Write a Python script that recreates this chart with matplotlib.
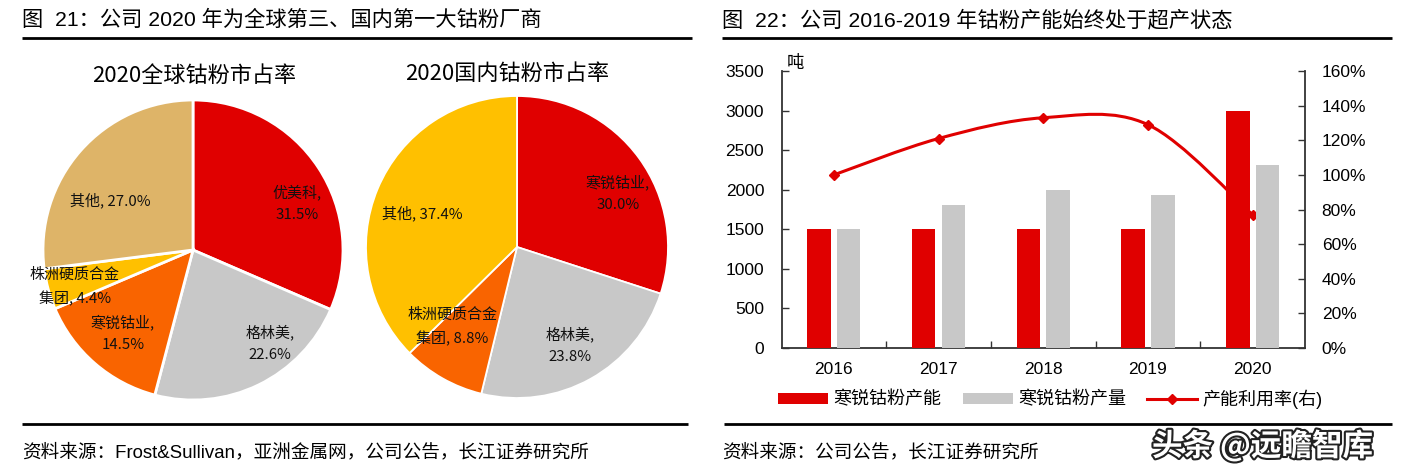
import matplotlib
matplotlib.use('Agg')
import matplotlib.pyplot as plt
import numpy as np
from matplotlib.path import Path
from matplotlib.patches import PathPatch, Patch
from matplotlib.lines import Line2D
import matplotlib.patheffects as pe

plt.rcParams['font.family'] = ['Liberation Sans', 'Noto Sans CJK SC']
plt.rcParams['axes.unicode_minus'] = False

# ---------------- data ----------------
global_names = ['优美科', '格林美', '寒锐钴业', '株洲硬质合金\n集团', '其他']
global_share = [31.5, 22.6, 14.5, 4.4, 27.0]
global_sep = [',\n', ',\n', ',\n', ', ', ', ']

domestic_names = ['寒锐钴业', '格林美', '株洲硬质合金\n集团', '其他']
domestic_share = [30.0, 23.8, 8.8, 37.4]
domestic_sep = [',\n', ',\n', ', ', ', ']

years = ['2016', '2017', '2018', '2019', '2020']
capacity = [1500, 1500, 1500, 1500, 3000]
output = [1500, 1810, 2000, 1935, 2316]
utilization = [100.0, 121.0, 133.0, 129.0, 77.0]
left_ticks = [0, 500, 1000, 1500, 2000, 2500, 3000, 3500]
right_ticks = [0, 20, 40, 60, 80, 100, 120, 140, 160]

# ---------------- styles ----------------
RED = '#E00000'
GRAY = '#C8C8C8'
ORANGE = '#F96400'
YELLOW = '#FFC000'
TAN = '#DEB468'
global_colors = [RED, GRAY, ORANGE, YELLOW, TAN]
domestic_colors = [RED, GRAY, ORANGE, YELLOW]

W, H = 1423, 474
fig = plt.figure(figsize=(W / 100, H / 100), dpi=100)
fig.patch.set_facecolor('white')


def fx(px):
    return px / W


def fy(py):
    return 1 - py / H


def hline(x0, x1, y, lw=2.0):
    fig.add_artist(Line2D([fx(x0), fx(x1)], [fy(y), fy(y)], color='black', lw=lw,
                          solid_capstyle='butt'))


# titles and rules
fig.text(fx(22), fy(20), '图  21：公司 2020 年为全球第三、国内第一大钴粉厂商',
         fontsize=15.3, ha='left', va='center')
fig.text(fx(722), fy(20), '图  22：公司 2016-2019 年钴粉产能始终处于超产状态',
         fontsize=15.3, ha='left', va='center')
hline(22, 692, 38)
hline(722, 1392, 38)
hline(22, 688, 424)
hline(724, 1392, 424)
fig.text(fx(22), fy(452), '资料来源：Frost&Sullivan，亚洲金属网，公司公告，长江证券研究所',
         fontsize=13.4, ha='left', va='center')
fig.text(fx(722), fy(452), '资料来源：公司公告，长江证券研究所',
         fontsize=13.4, ha='left', va='center')

PIEFONT = ['Noto Sans CJK SC']


def draw_pie(cx, cy, r, values, colors, names, seps, label_pos, title, title_xy, ew):
    ax = fig.add_axes([fx(cx - r), fy(cy + r), 2 * r / W, 2 * r / H])
    wedges, _ = ax.pie(values, colors=colors, startangle=90, counterclock=False,
                       radius=1, wedgeprops=dict(edgecolor='white', linewidth=ew))
    for w in wedges:
        w.set_clip_on(False)
    ax.set_xlim(-1, 1)
    ax.set_ylim(-1, 1)
    ax.set_aspect('auto')
    ax.axis('off')
    for name, v, s, (lx, ly) in zip(names, values, seps, label_pos):
        ax.text(lx, ly, f'{name}{s}{v:.1f}%', ha='center', va='center',
                fontsize=10.8, family=PIEFONT, linespacing=1.7, color='#111111')
    fig.text(fx(title_xy[0]), fy(title_xy[1]), title, ha='center', va='center',
             fontsize=15.9, family=PIEFONT)


global_label_pos = [(0.693, 0.313), (0.513, -0.62), (-0.467, -0.553),
                    (-0.787, -0.247), (-0.553, 0.333)]
domestic_label_pos = [(0.669, 0.358), (0.351, -0.649), (-0.430, -0.530),
                      (-0.629, 0.225)]

draw_pie(193, 250, 150, global_share, global_colors, global_names, global_sep,
         global_label_pos, '2020全球钴粉市占率', (194, 76), 2.0)
draw_pie(517, 247, 151, domestic_share, domestic_colors, domestic_names, domestic_sep,
         domestic_label_pos, '2020国内钴粉市占率', (507, 74), 1.3)

# ---------------- bar + line chart ----------------
ax = fig.add_axes([fx(781.5), fy(348), 523.5 / W, 277 / H])
ax2 = ax.twinx()
ax.set_zorder(2)
ax2.set_zorder(1)
ax.patch.set_visible(False)

x = np.arange(len(years))
bw = 0.224
off = 0.142
ax.bar(x - off, capacity, bw, color=RED, zorder=3)
ax.bar(x + off, output, bw, color=GRAY, zorder=3)
ax.set_xlim(-0.5, len(years) - 0.5)
ax.set_ylim(0, 3500)
ax2.set_ylim(0, 160)

# smooth line (Catmull-Rom as cubic Bezier)
pts = np.column_stack([x, utilization]).astype(float)
n = len(pts)
verts = [tuple(pts[0])]
codes = [Path.MOVETO]
for i in range(n - 1):
    p0 = pts[max(i - 1, 0)]
    p1 = pts[i]
    p2 = pts[i + 1]
    p3 = pts[min(i + 2, n - 1)]
    c1 = p1 + (p2 - p0) / 6.0
    c2 = p2 - (p3 - p1) / 6.0
    verts += [tuple(c1), tuple(c2), tuple(p2)]
    codes += [Path.CURVE4] * 3
ax2.add_patch(PathPatch(Path(verts, codes), fill=False, edgecolor=RED, lw=2.2,
                        capstyle='round'))
ax2.plot(x, utilization, ls='none', marker='D', ms=5.5, color=RED)

SPC = '#333333'
for s in ['top', 'right']:
    ax.spines[s].set_visible(False)
for s in ['top', 'left', 'bottom']:
    ax2.spines[s].set_visible(False)
for s in ['left', 'bottom']:
    ax.spines[s].set_color(SPC)
    ax.spines[s].set_linewidth(1.3)
ax2.spines['right'].set_color(SPC)
ax2.spines['right'].set_linewidth(1.3)

ax.set_yticks(left_ticks)
ax.set_yticklabels([str(v) for v in left_ticks])
ax.tick_params(axis='y', direction='in', length=5, width=1, color=SPC,
               labelsize=12.5, pad=12.5)
ax.set_xticks(x)
ax.set_xticklabels(years)
ax.tick_params(axis='x', which='major', length=0, labelsize=12.5, pad=9.8)
ax.set_xticks(x[:-1] + 0.5, minor=True)
ax.tick_params(axis='x', which='minor', direction='in', length=5, width=1, color=SPC)

ax2.set_yticks(right_ticks)
ax2.set_yticklabels([f'{v}%' for v in right_ticks])
ax2.tick_params(axis='y', direction='in', length=5, width=1, color=SPC,
                labelsize=12.5, pad=12)

fig.text(fx(787), fy(63), '吨', fontsize=12.5, ha='left', va='center')

handles = [Patch(facecolor=RED, edgecolor='none'),
           Patch(facecolor=GRAY, edgecolor='none'),
           Line2D([], [], color=RED, lw=2.2, marker='D', ms=5)]
labels = ['寒锐钴粉产能', '寒锐钴粉产量', '产能利用率(右)']
fig.legend(handles, labels, loc='center left', bbox_to_anchor=(fx(778), fy(399)),
           ncol=3, frameon=False, borderpad=0, borderaxespad=0, handlelength=2.77,
           handleheight=0.55, handletextpad=0.28, columnspacing=1.2,
           prop={'size': 13, 'family': ['Liberation Sans', 'Noto Sans CJK SC']})

# watermark
fig.text(fx(1152), fy(446), '头条 @远瞻智库', fontsize=22, color='white',
         ha='left', va='center', family=PIEFONT, fontweight='bold',
         path_effects=[pe.withStroke(linewidth=3, foreground='#222222')])

fig.savefig('out.png', dpi=100, facecolor='white')
